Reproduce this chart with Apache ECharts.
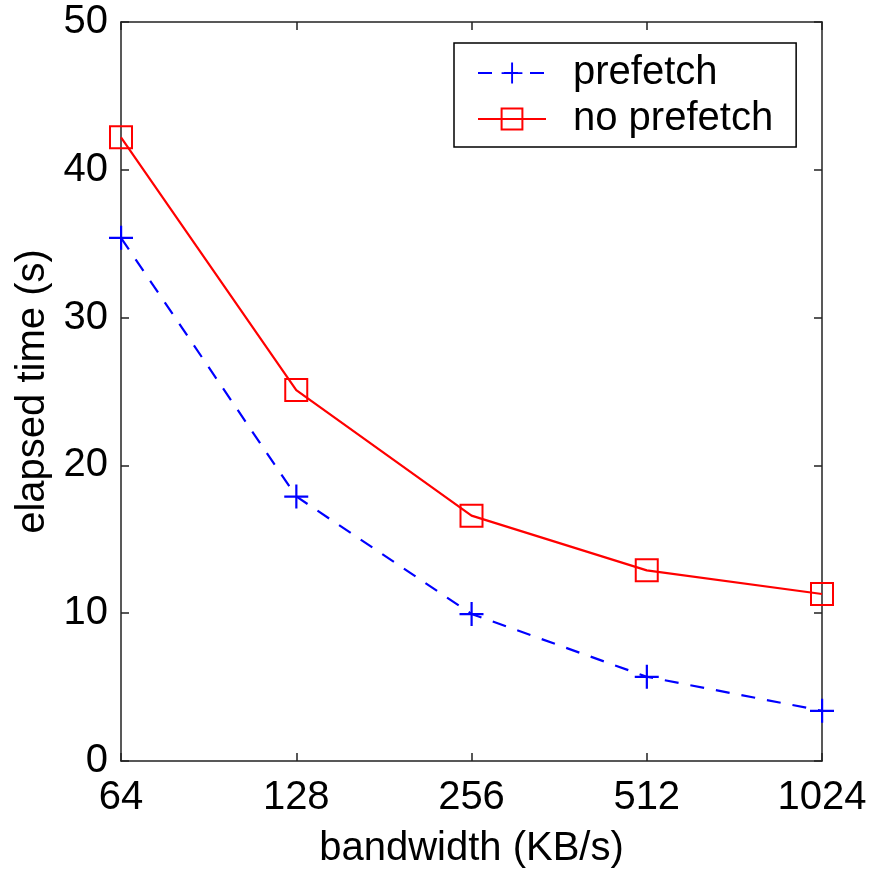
<!DOCTYPE html>
<html>
<head>
<meta charset="utf-8">
<script src="https://cdn.jsdelivr.net/npm/echarts@6/dist/echarts.min.js"></script>
<style>
  html, body { margin: 0; padding: 0; background: #fff; }
  #chart { width: 871px; height: 870px; }
</style>
</head>
<body>
<div id="chart"></div>
<script>
// bandwidth categories (KB/s), evenly spaced like a log2 axis
const bandwidth = ['64', '128', '256', '512', '1024'];
// elapsed time (s)
const prefetch = [35.4, 17.9, 9.95, 5.7, 3.4];
const noPrefetch = [42.2, 25.1, 16.6, 12.9, 11.3];
const yTicks = [0, 10, 20, 30, 40, 50];

const FONT = '"Liberation Sans", Arial, sans-serif';
const AXIS_COLOR = '#222';

// plus marker drawn as a thin filled cross
const plusPath = 'path://M11,0 H13.2 V11 H24 V13.2 H13.2 V24 H11 V13.2 H0 V11 H11 Z';

const chart = echarts.init(document.getElementById('chart'));

const tickStyle = { show: true, inside: true, length: 8, lineStyle: { color: AXIS_COLOR, width: 1.5 } };
const lineStyle = { show: true, onZero: false, lineStyle: { color: AXIS_COLOR, width: 1.5 } };

const option = {
  animation: false,
  backgroundColor: '#fff',
  textStyle: { fontFamily: FONT },
  grid: { left: 121, right: 49, top: 22, bottom: 109, containLabel: false, outerBoundsMode: 'none' },
  legend: {
    orient: 'vertical',
    left: 454,
    top: 43,
    padding: [10, 23, 8, 23],
    itemGap: 6,
    itemWidth: 68,
    itemHeight: 26,
    backgroundColor: '#fff',
    borderColor: '#000',
    borderWidth: 1.5,
    borderRadius: 0,
    textStyle: { fontSize: 40, color: '#000', fontFamily: FONT, padding: [0, 0, 0, 22], lineHeight: 40 },
    data: ['prefetch', 'no prefetch']
  },
  xAxis: [
    {
      type: 'category',
      data: bandwidth,
      boundaryGap: false,
      position: 'bottom',
      axisLine: lineStyle,
      axisTick: tickStyle,
      splitLine: { show: false },
      axisLabel: { fontSize: 40, color: '#000', margin: 17, fontFamily: FONT },
      name: 'bandwidth (KB/s)',
      nameLocation: 'middle',
      nameGap: 68,
      nameTextStyle: { fontSize: 40, color: '#000', fontFamily: FONT }
    },
    {
      type: 'category',
      data: bandwidth,
      boundaryGap: false,
      position: 'top',
      axisLine: lineStyle,
      axisTick: tickStyle,
      axisLabel: { show: false },
      splitLine: { show: false }
    }
  ],
  yAxis: [
    {
      type: 'value',
      min: yTicks[0],
      max: yTicks[yTicks.length - 1],
      interval: 10,
      position: 'left',
      axisLine: lineStyle,
      axisTick: tickStyle,
      splitLine: { show: false },
      axisLabel: { fontSize: 40, color: '#000', margin: 13, fontFamily: FONT },
      name: 'elapsed time (s)',
      nameLocation: 'middle',
      nameGap: 68,
      nameTextStyle: { fontSize: 40, color: '#000', fontFamily: FONT }
    },
    {
      type: 'value',
      min: yTicks[0],
      max: yTicks[yTicks.length - 1],
      interval: 10,
      position: 'right',
      axisLine: lineStyle,
      axisTick: tickStyle,
      axisLabel: { show: false },
      splitLine: { show: false }
    }
  ],
  series: [
    {
      name: 'prefetch',
      type: 'line',
      data: prefetch,
      symbol: plusPath,
      symbolSize: 24,
      itemStyle: { color: '#0000ff', borderWidth: 0 },
      lineStyle: { color: '#0000ff', width: 2.2, type: [14, 12] },
      z: 3
    },
    {
      name: 'no prefetch',
      type: 'line',
      data: noPrefetch,
      symbol: 'rect',
      symbolSize: 22,
      itemStyle: { color: 'rgba(255,255,255,0)', borderColor: '#ff0000', borderWidth: 2 },
      lineStyle: { color: '#ff0000', width: 2.2, type: 'solid' },
      z: 2
    }
  ]
};

chart.setOption(option);
</script>
</body>
</html>
